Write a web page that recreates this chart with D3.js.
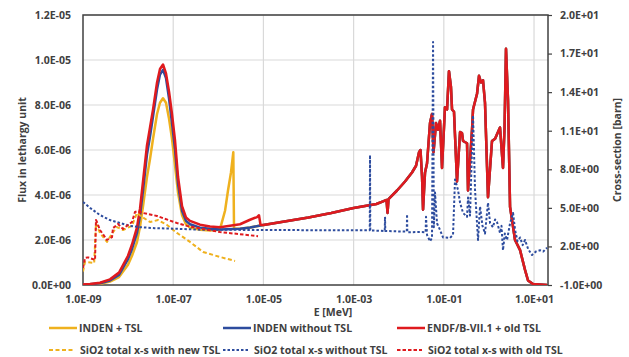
<!DOCTYPE html>
<html>
<head>
<meta charset="utf-8">
<script src="https://cdn.jsdelivr.net/npm/d3@7/dist/d3.min.js"></script>
<style>
  body { margin: 0; background: #fff; }
  text { font-family: "Open Sans", sans-serif; font-weight: 700; fill: #404040; }
</style>
</head>
<body>
<svg id="chart" width="629" height="357"></svg>
<script>
// ---- data: [E (MeV), value] ----
// flux (left axis), thermal part of each calculation
var indenTslThermal = [[1e-9,0],[2.38e-9,0.05e-6],[3.97e-9,0.15e-6],[6.29e-9,0.35e-6],[9.95e-9,0.9e-6],[1.22e-8,1.3e-6],
  [1.57e-8,1.9e-6],[1.84e-8,2.6e-6],[2.14e-8,3.5e-6],[2.62e-8,4.8e-6],[3.06e-8,5.6e-6],[3.57e-8,6.5e-6],[4.38e-8,7.6e-6],
  [5.09e-8,8.1e-6],[5.94e-8,8.3e-6],[6.92e-8,8.1e-6],[8.07e-8,7.4e-6],[9.4e-8,6.5e-6],[1.1e-7,5.3e-6],[1.28e-7,4.1e-6],
  [1.57e-7,3.1e-6],[1.92e-7,2.7e-6],[2.36e-7,2.55e-6],[3.93e-7,2.45e-6],[6.54e-7,2.42e-6],[1.04e-6,2.45e-6],[1.15e-6,2.65e-6],
  [1.41e-6,3.3e-6],[1.64e-6,4.2e-6],[1.91e-6,5.0e-6],[2.15e-6,5.9e-6],[2.23e-6,2.5e-6],[3.03e-6,2.5e-6],[5.05e-6,2.56e-6],[8.62e-6,2.64e-6]];

var indenNoTslThermal = [[1e-9,0.01e-6],[1.43e-9,0.03e-6],[2.38e-9,0.08e-6],[3.97e-9,0.2e-6],[6.29e-9,0.45e-6],[9.95e-9,1.15e-6],
  [1.22e-8,1.6e-6],[1.57e-8,2.3e-6],[1.84e-8,3.1e-6],[2.14e-8,4.2e-6],[2.62e-8,5.8e-6],[3.06e-8,6.6e-6],[3.57e-8,7.5e-6],
  [4.38e-8,8.7e-6],[5.09e-8,9.35e-6],[5.94e-8,9.56e-6],[6.92e-8,9.2e-6],[8.07e-8,8.3e-6],[9.4e-8,7.2e-6],[1.1e-7,6.0e-6],
  [1.28e-7,4.5e-6],[1.57e-7,3.3e-6],[1.92e-7,2.85e-6],[2.36e-7,2.7e-6],[3.93e-7,2.55e-6],[6.54e-7,2.5e-6],[1.09e-6,2.47e-6],
  [3.03e-6,2.5e-6],[5.05e-6,2.56e-6],[8.62e-6,2.64e-6]];

var endfThermal = [[1e-9,0.02e-6],[1.43e-9,0.04e-6],[2.38e-9,0.1e-6],[3.97e-9,0.25e-6],[6.29e-9,0.55e-6],[9.95e-9,1.3e-6],
  [1.22e-8,1.8e-6],[1.57e-8,2.55e-6],[1.84e-8,3.4e-6],[2.14e-8,4.6e-6],[2.62e-8,6.2e-6],[3.06e-8,7.0e-6],[3.57e-8,7.8e-6],
  [4.38e-8,9.0e-6],[5.09e-8,9.6e-6],[5.94e-8,9.8e-6],[6.92e-8,9.4e-6],[8.07e-8,8.6e-6],[9.4e-8,7.6e-6],[1.1e-7,6.4e-6],
  [1.28e-7,4.8e-6],[1.57e-7,3.5e-6],[1.92e-7,3.0e-6],[2.36e-7,2.85e-6],[3.93e-7,2.68e-6],[6.54e-7,2.6e-6],[1.09e-6,2.57e-6],
  [3.03e-6,2.7e-6],[5.05e-6,2.9e-6],[7.22e-6,3.02e-6],[7.98e-6,3.1e-6],[8.62e-6,2.68e-6]];

// flux above 10 eV is the same for the three calculations
var fastFlux = [[1e-5,2.67e-6],[1e-4,3.0e-6],[3.2e-4,3.2e-6],[1e-3,3.42e-6],[3.2e-3,3.6e-6],[4.49e-3,3.72e-6],[5.36e-3,3.78e-6],
  [5.65e-3,3.2e-6],[5.94e-3,3.82e-6],[9.17e-3,4.2e-6],[1.38e-2,4.6e-6],[1.97e-2,5.0e-6],[2.42e-2,5.3e-6],[2.82e-2,5.9e-6],
  [3.04e-2,6.0e-6],[3.29e-2,4.8e-6],[3.46e-2,3.35e-6],[3.83e-2,5.0e-6],[4.24e-2,5.4e-6],[4.94e-2,7.2e-6],[5.47e-2,7.6e-6],
  [5.91e-2,5.9e-6],[6.72e-2,7.2e-6],[7.4e-2,6.9e-6],[8.24e-2,7.3e-6],[9.12e-2,5.2e-6],[0.106,7.9e-6],[0.118,7.8e-6],[0.130,9.5e-6],
  [0.144,8.8e-6],[0.152,7.8e-6],[0.168,7.7e-6],[0.196,4.6e-6],[0.229,6.8e-6],[0.253,6.75e-6],[0.267,6.4e-6],[0.327,6.3e-6],
  [0.344,4.2e-6],[0.422,6.9e-6],[0.444,7.8e-6],[0.545,8.5e-6],[0.603,9.3e-6],[0.668,9.0e-6],[0.739,9.1e-6],[0.818,8.1e-6],
  [0.954,3.9e-6],[1.17,6.4e-6],[1.37,6.5e-6],[1.51,6.7e-6],[1.76,7.0e-6],[2.05,5.2e-6],[2.22,7.0e-6],[2.39,10.5e-6],
  [2.65,8.2e-6],[2.94,3.47e-6],[3.79,2.0e-6],[4.9,1.55e-6],[6.31,0.67e-6],[7.36,0.2e-6],[9.5,0.04e-6],[19.4,0]];

// SiO2 total cross-sections (right axis, barn)
var xsNewTsl = [[1e-9,0.05],[1.11e-9,0.79],[1.77e-9,0.71],[1.94e-9,3.8],[2.38e-9,3.05],[3.4e-9,2.35],[4.63e-9,3.12],
  [5.67e-9,3.5],[7.71e-9,3.28],[1.22e-8,3.6],[1.57e-8,4.6],[2.03e-8,4.3],[3.06e-8,3.9],[4.61e-8,4.05],[7.29e-8,3.67],
  [1.21e-7,3.05],[2.36e-7,2.35],[4.58e-7,1.57],[1.09e-6,1.18],[2.35e-6,0.87]];

var xsNoTsl = [[1e-9,5.46],[1.43e-9,5.0],[2.38e-9,4.44],[3.97e-9,4.05],[6.7e-9,3.82],[1.1e-8,3.6],[1.84e-8,3.5],[3.9e-8,3.42],
  [1e-7,3.38],[4e-7,3.3],[1e-5,3.28],[1e-3,3.25],[2.28e-3,3.25],[2.31e-3,9.1],[2.34e-3,3.25],[4.9e-3,3.2],[4.97e-3,4.3],
  [5.04e-3,3.2],[1.51e-2,3.15],[1.53e-2,4.5],[1.55e-2,3.1],[2.96e-2,3.12],[3.95e-2,3.1],[4.03e-2,4.3],[4.24e-2,2.9],
  [4.94e-2,2.4],[5.47e-2,2.66],[5.77e-2,17.9],[6.0e-2,3.5],[6.38e-2,6.2],[7.06e-2,3.8],[8.24e-2,3.28],[9.6e-2,2.7],
  [0.137,2.66],[0.160,2.9],[0.177,7.2],[0.206,6.4],[0.229,5.4],[0.267,4.6],[0.327,4.3],[0.344,5.8],[0.381,4.4],[0.444,12.2],
  [0.492,6.4],[0.573,2.5],[0.635,5.1],[0.72,3.6],[0.818,3.0],[0.954,5.4],[1.06,3.8],[1.23,3.5],[1.37,4.1],[1.51,3.9],
  [1.76,3.05],[1.9,3.6],[2.05,1.7],[2.25,3.0],[2.52,2.5],[2.94,3.8],[3.43,4.6],[3.79,3.3],[4.3,2.4],[4.9,2.7],[5.6,2.1],
  [6.31,2.5],[7.4,1.8],[9.0,1.33],[11.0,1.6],[13.6,1.7],[16.0,1.6],[19.4,1.9]];

var xsOldTsl = [[1e-9,0.32],[1.11e-9,1.1],[1.29e-9,1.15],[1.85e-9,0.95],[1.94e-9,4.06],[2.04e-9,3.9],[2.38e-9,3.28],
  [3.4e-9,2.5],[4.4e-9,2.73],[4.63e-9,3.43],[5.97e-9,3.74],[7.71e-9,3.36],[9.95e-9,3.67],[1.22e-8,3.9],[1.42e-8,4.68],
  [1.66e-8,4.75],[2.14e-8,4.6],[4.38e-8,4.37],[5.94e-8,4.2],[1.21e-7,3.82],[2.02e-7,3.6],[4.58e-7,3.36],[1.09e-6,3.12],[7.59e-6,2.8]];

var xTicks = [1e-9, 1e-7, 1e-5, 1e-3, 1e-1, 1e1];
var fluxTicks = [0, 2e-6, 4e-6, 6e-6, 8e-6, 1e-5, 1.2e-5];
var xsTicks = [-1, 2, 5, 8, 11, 14, 17, 20];

var series = [
  {name: "INDEN + TSL", data: indenTslThermal.concat(fastFlux), axis: "L", color: "#EFB11E", dash: null},
  {name: "INDEN without TSL", data: indenNoTslThermal.concat(fastFlux), axis: "L", color: "#2D4C9E", dash: null},
  {name: "ENDF/B-VII.1 + old TSL", data: endfThermal.concat(fastFlux), axis: "L", color: "#DF1A1E", dash: null},
  {name: "SiO2 total x-s with new TSL", data: xsNewTsl, axis: "R", color: "#EFB11E", dash: "4,2.5"},
  {name: "SiO2 total x-s without TSL", data: xsNoTsl, axis: "R", color: "#2D4C9E", dash: "2.5,2"},
  {name: "SiO2 total x-s with old TSL", data: xsOldTsl, axis: "R", color: "#DF1A1E", dash: "3.5,2"}
];

// ---- layout ----
var plotL = 83, plotR = 548, plotT = 15, plotB = 285;
var svg = d3.select("#chart");

var x = d3.scaleLog().domain([1e-9, 20.4]).range([plotL, plotR]);
var yL = d3.scaleLinear().domain([0, 1.2e-5]).range([plotB, plotT]);
var yR = d3.scaleLinear().domain([-1, 20]).range([plotB, plotT]);

function sci(v) {
  var s = v.toExponential(1).toUpperCase();
  return s.replace(/E([+-])(\d)$/, "E$10$2");
}

// grid
svg.append("g").selectAll("line").data(xTicks.slice(1)).enter().append("line")
  .attr("x1", d => x(d)).attr("x2", d => x(d)).attr("y1", plotT).attr("y2", plotB)
  .attr("stroke", "#d9d9d9").attr("stroke-width", 1.2);
svg.append("g").selectAll("line").data(fluxTicks.slice(1)).enter().append("line")
  .attr("x1", plotL).attr("x2", plotR).attr("y1", d => yL(d)).attr("y2", d => yL(d))
  .attr("stroke", "#d9d9d9").attr("stroke-width", 1.2);

// axes
var gx = svg.append("g").attr("transform", "translate(0," + plotB + ")")
  .call(d3.axisBottom(x).tickValues(xTicks).tickFormat(sci).tickSize(0).tickPadding(11));
var gl = svg.append("g").attr("transform", "translate(" + plotL + ",0)")
  .call(d3.axisLeft(yL).tickValues(fluxTicks).tickFormat(sci).tickSize(0).tickPadding(12));
var gr = svg.append("g").attr("transform", "translate(" + plotR + ",0)")
  .call(d3.axisRight(yR).tickValues(xsTicks).tickFormat(sci).tickSizeInner(4).tickSizeOuter(0).tickPadding(8));
[gx, gl, gr].forEach(function (g) {
  g.select(".domain").remove();
  g.selectAll("text").style("font-size", "10.5px").attr("fill", "#404040");
  g.selectAll("line").attr("stroke", "#404040").attr("stroke-width", 1.2);
});

// plot frame
svg.append("rect").attr("x", plotL).attr("y", plotT).attr("width", plotR - plotL).attr("height", plotB - plotT)
  .attr("fill", "none").attr("stroke", "#404040").attr("stroke-width", 1.5);

// lines
svg.append("clipPath").attr("id", "clip").append("rect")
  .attr("x", plotL).attr("y", plotT - 2).attr("width", plotR - plotL).attr("height", plotB - plotT + 2);
var plot = svg.append("g").attr("clip-path", "url(#clip)");

series.forEach(function (s) {
  var yy = s.axis === "L" ? yL : yR;
  var line = d3.line().x(d => x(d[0])).y(d => yy(d[1]));
  plot.append("path").datum(s.data)
    .attr("d", line)
    .attr("fill", "none")
    .attr("stroke", s.color)
    .attr("stroke-width", s.dash ? 2 : 2.5)
    .attr("stroke-dasharray", s.dash)
    .attr("stroke-linejoin", "round");
});

// axis titles
svg.append("text").attr("transform", "translate(22,150) rotate(-90)").attr("text-anchor", "middle")
  .attr("dominant-baseline", "central").style("font-size", "10.5px").text("Flux in lethargy unit");
svg.append("text").attr("transform", "translate(617,150) rotate(-90)").attr("text-anchor", "middle")
  .attr("dominant-baseline", "central").style("font-size", "10.5px").text("Cross-section [barn]");
svg.append("text").attr("x", 333).attr("y", 312).attr("text-anchor", "middle")
  .attr("dominant-baseline", "central").style("font-size", "10.5px").text("E [MeV]");

// legend
var legPos = [[49, 328], [223, 328], [397, 328], [49, 350], [223, 350], [397, 350]];
series.forEach(function (s, i) {
  var p = legPos[i];
  var len = s.dash ? 25 : 28;
  svg.append("line").attr("x1", p[0]).attr("x2", p[0] + len).attr("y1", p[1]).attr("y2", p[1])
    .attr("stroke", s.color).attr("stroke-width", s.dash ? 2 : 2.5).attr("stroke-dasharray", s.dash);
  svg.append("text").attr("x", p[0] + (s.dash ? 31 : 30)).attr("y", p[1]).attr("dominant-baseline", "central")
    .style("font-size", "10.5px").text(s.name);
});
</script>
</body>
</html>
